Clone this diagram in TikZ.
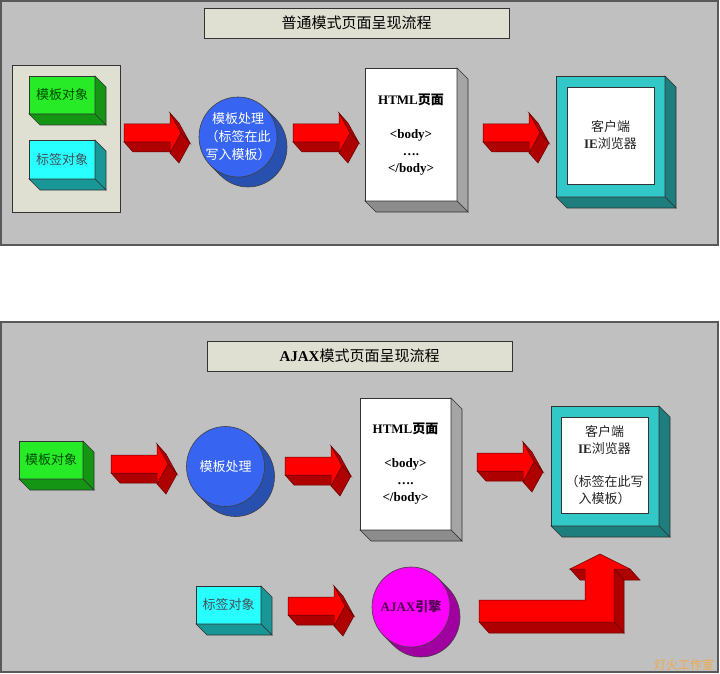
\documentclass[tikz,border=0pt]{standalone}
\usepackage{fontspec}
\setmainfont{Liberation Serif}
\newfontfamily\cjk{Noto Sans CJK SC}
\usetikzlibrary{shapes.geometric}

\definecolor{panelgray}{RGB}{192,192,192}
\definecolor{paper}{RGB}{224,224,210}
\definecolor{greenface}{RGB}{40,235,40}
\definecolor{greenside}{RGB}{20,150,20}
\definecolor{cyanface}{RGB}{40,255,255}
\definecolor{cyanside}{RGB}{25,150,150}
\definecolor{tealface}{RGB}{50,200,200}
\definecolor{tealside}{RGB}{30,125,125}
\definecolor{blueface}{RGB}{55,100,240}
\definecolor{blueside}{RGB}{40,80,175}
\definecolor{pinkface}{RGB}{255,0,255}
\definecolor{pinkside}{RGB}{160,0,160}
\definecolor{hotred}{RGB}{255,0,0}
\definecolor{deepred}{RGB}{175,0,0}
\definecolor{rededge}{RGB}{100,0,0}
\definecolor{pageright}{RGB}{165,165,165}
\definecolor{pagebottom}{RGB}{140,140,140}
\definecolor{stamp}{RGB}{240,170,70}

\tikzset{
  panel/.style={fill=panelgray,draw=black!65,line width=1.2pt},
  tray/.style={fill=paper,draw=black!80,line width=0.8pt},
  titlebox/.style={fill=paper,draw=black!80,line width=0.8pt,minimum width=305pt,minimum height=30pt,font=\fontsize{15}{18}\selectfont},
  face/.style={draw=black!80,line width=0.6pt,inner sep=0pt,outer sep=0pt,align=center,font=\fontsize{13}{17}\selectfont},
  drum/.style={ellipse,draw=black!75,line width=0.6pt,inner sep=0pt,minimum width=78pt,minimum height=80pt},
  drumtext/.style={align=center,font=\fontsize{13}{18}\selectfont},
  arrowfront/.style={fill=hotred,draw=rededge,line width=0.5pt},
  arrowside/.style={fill=deepred,draw=rededge,line width=0.5pt},
}

\newcommand{\zh}[1]{{\cjk #1}}
\newcommand{\sidedep}{11}
\newcommand{\slabsides}[3]{%
  \filldraw[fill=#2,draw=black!80,line width=0.6pt] (#1.north east) -- ++(\sidedep,\sidedep) -- ([shift={(\sidedep,\sidedep)}]#1.south east) -- (#1.south east) -- cycle;
  \filldraw[fill=#3,draw=black!80,line width=0.6pt] (#1.south west) -- ++(\sidedep,\sidedep) -- ([shift={(\sidedep,\sidedep)}]#1.south east) -- (#1.south east) -- cycle;}
\newcommand{\fatarrow}[1]{%
  \begin{scope}[shift={(#1)}]
    \draw[arrowside] (46,9) -- (0,9) -- (9,19) -- (55,19) -- cycle;
    \draw[arrowside] (46,-20) -- (57,0) -- (66,10) -- (55,-10) -- cycle;
    \draw[arrowside] (57,0) -- (46,20) -- (55,30) -- (66,10) -- cycle;
    \draw[arrowfront] (0,-9) -- (46,-9) -- (46,-20) -- (57,0) -- (46,20) -- (46,9) -- (0,9) -- cycle;
  \end{scope}}
\newcommand{\drumback}[2]{%
  \filldraw[fill=#2,draw=black!75,line width=0.6pt] ([shift={(10,10)}]#1) ellipse [x radius=39,y radius=40];
  \fill[#2] ([shift={(27.4,-28.5)}]#1) -- ([shift={(37.4,-18.5)}]#1) -- ([shift={(-17.4,38.5)}]#1) -- ([shift={(-27.4,28.5)}]#1) -- cycle;
  \draw[black!75,line width=0.6pt] ([shift={(27.4,-28.5)}]#1) -- ([shift={(37.4,-18.5)}]#1) ([shift={(-27.4,28.5)}]#1) -- ([shift={(-17.4,38.5)}]#1);}

\begin{document}
\begin{tikzpicture}[x=1pt,y=-1pt]
  \fill[white] (0,0) rectangle (720,674);
  \useasboundingbox (0,0) rectangle (720,674);

  % normal mode
  \draw[panel] (1,1) rectangle (718,245);
  \node[titlebox] (title1) at (356.5,23) {\zh{普通模式页面呈现流程}};
  \draw[tray] (12,65) rectangle (120,212);
  \node[face,fill=greenface,text=green!30!black,minimum width=66pt,minimum height=38pt] (tpl1) at (62,95) {\zh{模板对象}};
  \slabsides{tpl1}{greenside}{greenside}
  \node[face,fill=cyanface,text=cyan!25!black,minimum width=66pt,minimum height=39pt] (tag1) at (62,159.5) {\zh{标签对象}};
  \slabsides{tag1}{cyanside}{cyanside}
  \coordinate (a1) at (124,133);
  \fatarrow{a1}
  \coordinate (c1) at (238,137);
  \drumback{c1}{blueside}
  \node[drum,fill=blueface] (proc1) at (c1) {};
  \node[drumtext,text=white] (proc1t) at (proc1) {\zh{模板处理}\\\zh{（标签在此}\\\zh{写入模板）}};
  \coordinate (a2) at (293,133);
  \fatarrow{a2}
  \node[face,fill=white,minimum width=92pt,minimum height=133pt] (page1) at (411,134.5)
    {\textbf{HTML}\zh{\bfseries 页面}\\[17pt]\textbf{<body>}\\\textbf{….}\\\textbf{</body>}};
  \slabsides{page1}{pageright}{pagebottom}
  \coordinate (a3) at (483,133);
  \fatarrow{a3}
  \node[face,fill=tealface,minimum width=109pt,minimum height=121pt] (brw1) at (610.5,136.5) {};
  \slabsides{brw1}{tealside}{tealside}
  \node[face,fill=white,text=black!85,minimum width=87pt,minimum height=97pt] (brw1in) at (610.5,135.5)
    {\zh{客户端}\\\textbf{IE}\zh{浏览器}};

  % ajax mode
  \draw[panel] (1,322) rectangle (718,672);
  \node[titlebox] (title2) at (359.5,356) {\textbf{AJAX}\zh{模式页面呈现流程}};
  \node[face,fill=greenface,text=green!30!black,minimum width=64pt,minimum height=38pt] (tpl2) at (51,460) {\zh{模板对象}};
  \slabsides{tpl2}{greenside}{greenside}
  \coordinate (a4) at (111,464);
  \fatarrow{a4}
  \coordinate (c2) at (225.5,466.5);
  \drumback{c2}{blueside}
  \node[drum,fill=blueface] (proc2) at (c2) {};
  \node[drumtext,text=white] (proc2t) at (proc2) {\zh{模板处理}};
  \coordinate (a5) at (285,466);
  \fatarrow{a5}
  \node[face,fill=white,minimum width=91pt,minimum height=132pt] (page2) at (405.5,464)
    {\textbf{HTML}\zh{\bfseries 页面}\\[17pt]\textbf{<body>}\\\textbf{….}\\\textbf{</body>}};
  \slabsides{page2}{pageright}{pagebottom}
  \coordinate (a6) at (477,462);
  \fatarrow{a6}
  \node[face,fill=tealface,minimum width=108pt,minimum height=120pt] (brw2) at (605,466) {};
  \slabsides{brw2}{tealside}{tealside}
  \node[face,fill=white,text=black!85,minimum width=87pt,minimum height=96pt] (brw2in) at (604.5,465)
    {\zh{客户端}\\\textbf{IE}\zh{浏览器}\\[16pt]\zh{（标签在此写}\\\zh{入模板）}};
  \node[face,fill=cyanface,text=cyan!25!black,minimum width=65pt,minimum height=38pt] (tag2) at (228.5,605) {\zh{标签对象}};
  \slabsides{tag2}{cyanside}{cyanside}
  \coordinate (a7) at (288,606);
  \fatarrow{a7}
  \coordinate (c3) at (411,607);
  \drumback{c3}{pinkside}
  \node[drum,fill=pinkface] (engine) at (c3) {};
  \node[drumtext,text=violet!60!black] (enginet) at (engine) {\textbf{AJAX}\zh{\bfseries 引擎}};
  \coordinate (a8) at (479,600);
  \begin{scope}[shift={(a8)}]
    \draw[arrowside] (91,-31) -- (106,-31) -- (116,-20) -- (101,-20) -- cycle;
    \draw[arrowside] (151,-31) -- (135,-31) -- (145,-20) -- (161,-20) -- cycle;
    \draw[arrowside] (135,-31) -- (135,22) -- (145,33) -- (145,-20) -- cycle;
    \draw[arrowside] (135,22) -- (0,22) -- (10,33) -- (145,33) -- cycle;
    \draw[arrowfront] (0,0) -- (106,0) -- (106,-31) -- (91,-31) -- (121,-46) -- (151,-31) -- (135,-31) -- (135,22) -- (0,22) -- cycle;
  \end{scope}
  \node[text=stamp,font=\cjk\fontsize{12}{14}\selectfont] (mark) at (684,665) {灯火工作室};
\end{tikzpicture}
\end{document}
